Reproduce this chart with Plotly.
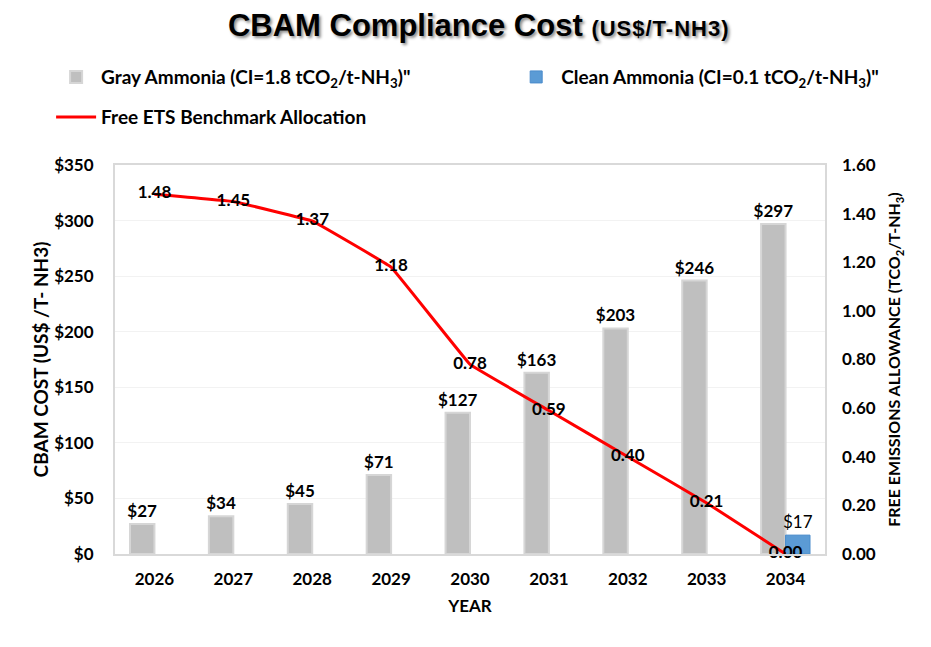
import plotly.graph_objects as go

years = ['2026', '2027', '2028', '2029', '2030', '2031', '2032', '2033', '2034']
gray_cost = [27, 34, 45, 71, 127, 163, 203, 246, 297]
clean_cost = [None, None, None, None, None, None, None, None, 17]
free_alloc = [1.48, 1.45, 1.37, 1.18, 0.78, 0.59, 0.40, 0.21, 0.00]

FONT = 'Lato'
# page body has an 8px margin, so the figure is drawn 8px smaller and offset
W, H = 923, 639

fig = go.Figure()

fig.add_trace(go.Bar(
    x=years, y=gray_cost, name='Gray Ammonia (CI=1.8 tCO<sub>2</sub>/t-NH<sub>3</sub>)"',
    marker=dict(color='#BFBFBF', line=dict(color='#D6D6D6', width=2)),
    text=['$' + str(v) for v in gray_cost], textposition='outside', constraintext='none',
    textfont=dict(family=FONT, size=17, color='black', weight='bold'),
    cliponaxis=False, showlegend=True, legend='legend'))

fig.add_trace(go.Bar(
    x=years, y=clean_cost, name='Clean Ammonia (CI=0.1 tCO<sub>2</sub>/t-NH<sub>3</sub>)"',
    marker=dict(color='#5B9BD5', line=dict(color='#4A8CCB', width=1)),
    text=['' if v is None else '$' + str(v) for v in clean_cost], textposition='outside',
    constraintext='none',
    textfont=dict(family=FONT, size=17, color='black'),
    cliponaxis=False, showlegend=True, legend='legend2'))

fig.add_trace(go.Scatter(
    x=years, y=free_alloc, name='Free ETS Benchmark Allocation', yaxis='y2',
    mode='lines+text', line=dict(color='#FF0000', width=3, shape='spline', smoothing=0.12),
    text=['%.2f' % v for v in free_alloc], textposition='middle center',
    textfont=dict(family=FONT, size=17, color='black', weight='bold'),
    cliponaxis=False, showlegend=True, legend='legend3'))

legend_font = dict(family=FONT, size=19, color='black', weight='bold')

fig.update_layout(
    width=W, height=H,
    margin=dict(l=107, r=106, t=157, b=93),
    paper_bgcolor='white', plot_bgcolor='white',
    font=dict(family=FONT, color='black'),
    showlegend=True,
    barmode='group', bargap=0.38, bargroupgap=0.0,
    title=dict(
        text='<b>CBAM Compliance Cost</b> '
             '<span style="font-size:22px;letter-spacing:1px"><b>(US$/T-NH3)</b></span>',
        x=0.510, xanchor='center', y=0.973, yanchor='middle',
        font=dict(family='Liberation Sans', size=31, color='black',
                  shadow='2px 2px 3px #8c8c8c')),
    legend=dict(orientation='h', x=-0.09, xanchor='left', y=1.226, yanchor='middle',
                font=legend_font, itemwidth=40, visible=True),
    legend2=dict(orientation='h', x=0.558, xanchor='left', y=1.226, yanchor='middle',
                 font=legend_font, itemwidth=40, visible=True),
    legend3=dict(orientation='h', x=-0.09, xanchor='left', y=1.123, yanchor='middle',
                 font=legend_font, itemwidth=40, visible=True),
    xaxis=dict(
        title=dict(text='<b>YEAR</b>', font=dict(family=FONT, size=17), standoff=12),
        tickfont=dict(family=FONT, size=17, weight='bold'),
        showline=True, linecolor='#D9D9D9', linewidth=2, mirror=True,
        ticks='', ticklabelstandoff=9),
    yaxis=dict(
        title=dict(text='<b>CBAM COST (US$ /T- NH3)</b>', font=dict(family=FONT, size=19), standoff=0),
        range=[0, 350], dtick=50, tickprefix='$',
        tickfont=dict(family=FONT, size=17, weight='bold'),
        showgrid=True, gridcolor='#F2F2F2',
        showline=True, linecolor='#D9D9D9', linewidth=2, mirror=True,
        zeroline=False, ticks='', ticklabelstandoff=16),
    yaxis2=dict(
        title=dict(text='<b>FREE EMISSIONS ALLOWANCE (TCO<sub>2</sub>/T-NH<sub>3</sub>)</b>',
                   font=dict(family=FONT, size=16), standoff=14),
        overlaying='y', side='right', range=[0, 1.6], dtick=0.2, tickformat='.2f',
        tickfont=dict(family=FONT, size=17, weight='bold'),
        showgrid=False, zeroline=False, ticks='', ticklabelstandoff=16),
)

fig.write_html('out.html')
